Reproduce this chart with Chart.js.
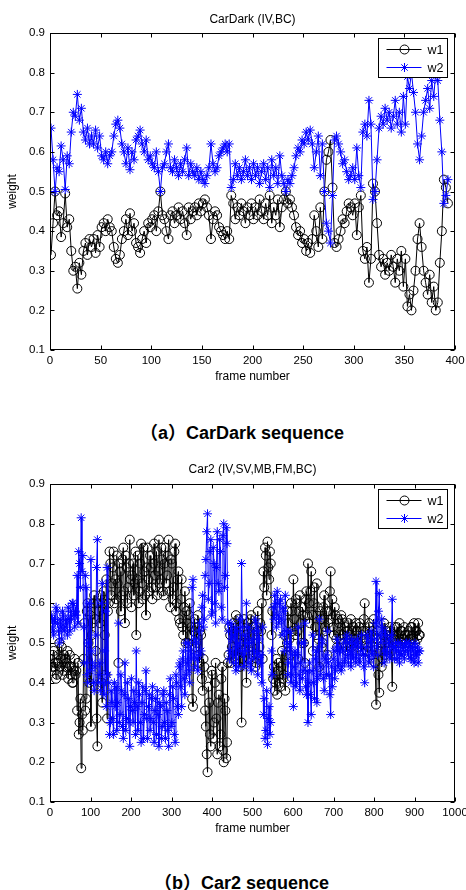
<!DOCTYPE html>
<html lang="en">
<head>
<meta charset="UTF-8">
<title>CarDark / Car2 weights</title>
<script src="https://cdn.jsdelivr.net/npm/chart.js"></script>
<style>
  html, body { margin: 0; padding: 0; background: #fff; }
  body { width: 466px; height: 890px; position: relative; overflow: hidden; font-family: "Liberation Sans", Arial, sans-serif; color: #000; }
  .box { position: absolute; left: 0; width: 466px; }
  .plot-title { position: absolute; left: 50px; width: 405px; text-align: center; font-size: 12px; line-height: 14px; }
  .caption { position: absolute; white-space: nowrap; font: bold 18px "Liberation Sans", "Noto Sans CJK SC", sans-serif; line-height: 22px; }
</style>
</head>
<body>

<div class="box" style="top:0;height:390px"><canvas id="chartDark" width="466" height="390"></canvas></div>
<div class="box" style="top:450px;height:392px"><canvas id="chartCar2" width="466" height="392"></canvas></div>

<div class="plot-title" style="top:12px">CarDark (IV,BC)</div>
<div class="caption" style="top:422px;left:140px">（a）CarDark sequence</div>
<div class="plot-title" style="top:462px">Car2 (IV,SV,MB,FM,BC)</div>
<div class="caption" style="top:872px;left:154px">（b）Car2 sequence</div>

<script>
    // CarDark: one value every 2 frames, starting at frame 1
    const darkFirstFrame = 1;
    const darkFrameStep = 2;
    const darkW1 = [
        0.34,0.42,0.50,0.44,0.45,0.385,0.42,0.495,0.41,0.43,
        0.35,0.30,0.31,0.255,0.32,0.29,0.35,0.37,0.34,0.38,
        0.36,0.38,0.345,0.39,0.36,0.41,0.42,0.40,0.43,0.41,
        0.40,0.36,0.33,0.32,0.34,0.38,0.40,0.43,0.39,0.445,
        0.40,0.42,0.37,0.36,0.345,0.38,0.40,0.37,0.42,0.41,
        0.43,0.44,0.40,0.45,0.50,0.44,0.43,0.40,0.38,0.44,
        0.45,0.42,0.44,0.46,0.43,0.45,0.42,0.39,0.46,0.43,
        0.45,0.46,0.44,0.47,0.45,0.47,0.48,0.46,0.44,0.38,
        0.43,0.45,0.44,0.41,0.40,0.39,0.38,0.40,0.38,0.49,
        0.47,0.43,0.46,0.44,0.47,0.45,0.42,0.46,0.44,0.47,
        0.43,0.46,0.44,0.48,0.45,0.43,0.47,0.44,0.49,0.42,
        0.46,0.44,0.48,0.41,0.46,0.48,0.50,0.47,0.48,0.46,
        0.44,0.41,0.39,0.40,0.37,0.38,0.35,0.37,0.345,0.38,
        0.44,0.40,0.36,0.46,0.38,0.50,0.58,0.60,0.63,0.51,
        0.37,0.36,0.38,0.40,0.43,0.42,0.45,0.47,0.46,0.44,
        0.47,0.39,0.46,0.49,0.35,0.33,0.36,0.27,0.33,0.52,
        0.50,0.42,0.34,0.31,0.33,0.29,0.32,0.30,0.34,0.31,
        0.27,0.33,0.30,0.35,0.26,0.33,0.21,0.24,0.20,0.25,
        0.30,0.38,0.42,0.36,0.30,0.27,0.24,0.29,0.22,0.26,
        0.20,0.22,0.32,0.40,0.53,0.51,0.47
    ];
    const darkW2 = [
        0.66,0.58,0.50,0.56,0.55,0.615,0.58,0.505,0.59,0.57,
        0.65,0.70,0.69,0.745,0.68,0.71,0.65,0.63,0.66,0.62,
        0.64,0.62,0.655,0.61,0.64,0.59,0.58,0.60,0.57,0.59,
        0.60,0.64,0.67,0.68,0.66,0.62,0.60,0.57,0.61,0.555,
        0.60,0.58,0.63,0.64,0.655,0.62,0.60,0.63,0.58,0.59,
        0.57,0.56,0.60,0.55,0.50,0.56,0.57,0.60,0.62,0.56,
        0.55,0.58,0.56,0.54,0.57,0.55,0.58,0.61,0.54,0.57,
        0.55,0.54,0.56,0.53,0.55,0.53,0.52,0.54,0.56,0.62,
        0.57,0.55,0.56,0.59,0.60,0.61,0.62,0.60,0.62,0.51,
        0.53,0.57,0.54,0.56,0.53,0.55,0.58,0.54,0.56,0.53,
        0.57,0.54,0.56,0.52,0.55,0.57,0.53,0.56,0.51,0.58,
        0.54,0.56,0.52,0.59,0.54,0.52,0.50,0.53,0.52,0.54,
        0.56,0.59,0.61,0.60,0.63,0.62,0.65,0.63,0.655,0.62,
        0.56,0.60,0.64,0.54,0.62,0.50,0.42,0.40,0.37,0.49,
        0.63,0.64,0.62,0.60,0.57,0.58,0.55,0.53,0.54,0.56,
        0.53,0.61,0.54,0.51,0.65,0.67,0.64,0.73,0.67,0.48,
        0.50,0.58,0.66,0.69,0.67,0.71,0.68,0.70,0.66,0.69,
        0.73,0.67,0.70,0.65,0.74,0.67,0.79,0.76,0.80,0.75,
        0.70,0.62,0.58,0.64,0.70,0.73,0.76,0.71,0.78,0.74,
        0.80,0.78,0.68,0.60,0.47,0.49,0.53
    ];

    // Car2: one value every 2 frames, starting at frame 1
    const car2FirstFrame = 1;
    const car2FrameStep = 2;
    const car2W1 = [
        0.46,0.43,0.44,0.47,0.48,0.44,0.45,0.41,0.42,0.45,0.47,0.50,0.44,0.46,0.49,0.42,0.43,0.47,0.46,0.44,
        0.45,0.48,0.41,0.44,0.47,0.42,0.44,0.40,0.40,0.43,0.46,0.42,0.43,0.33,0.45,0.27,0.30,0.36,0.185,0.32,
        0.28,0.46,0.55,0.33,0.36,0.58,0.60,0.50,0.40,0.57,0.29,0.52,0.55,0.60,0.62,0.56,0.48,0.31,0.24,0.60,
        0.58,0.55,0.62,0.40,0.35,0.60,0.63,0.52,0.42,0.66,0.31,0.58,0.60,0.73,0.70,0.62,0.65,0.69,0.73,0.60,
        0.66,0.61,0.72,0.65,0.45,0.70,0.68,0.58,0.62,0.71,0.74,0.63,0.55,0.72,0.69,0.60,0.64,0.70,0.76,0.66,
        0.59,0.67,0.70,0.62,0.65,0.73,0.52,0.66,0.72,0.60,0.63,0.70,0.75,0.65,0.61,0.74,0.68,0.62,0.57,0.69,
        0.74,0.66,0.63,0.72,0.69,0.64,0.61,0.70,0.75,0.67,0.64,0.73,0.62,0.68,0.76,0.65,0.66,0.74,0.71,0.63,
        0.62,0.70,0.74,0.65,0.67,0.72,0.76,0.63,0.59,0.71,0.70,0.61,0.64,0.73,0.75,0.58,0.60,0.66,0.68,0.56,
        0.55,0.61,0.66,0.54,0.52,0.59,0.63,0.50,0.58,0.55,0.50,0.57,0.60,0.52,0.54,0.36,0.34,0.53,0.56,0.49,
        0.50,0.54,0.57,0.47,0.45,0.53,0.52,0.41,0.38,0.46,0.44,0.33,0.29,0.22,0.175,0.39,0.35,0.27,0.24,0.43,
        0.42,0.26,0.30,0.40,0.45,0.31,0.22,0.35,0.37,0.24,0.27,0.41,0.44,0.23,0.20,0.36,0.33,0.21,0.25,0.45,
        0.47,0.54,0.52,0.45,0.49,0.53,0.55,0.48,0.46,0.57,0.51,0.47,0.56,0.50,0.44,0.52,0.30,0.46,0.53,0.56,
        0.48,0.52,0.40,0.50,0.55,0.46,0.50,0.56,0.57,0.49,0.47,0.54,0.52,0.44,0.45,0.53,0.58,0.47,0.49,0.55,
        0.53,0.60,0.46,0.68,0.64,0.74,0.72,0.62,0.755,0.69,0.66,0.73,0.70,0.52,0.58,0.41,0.44,0.38,0.40,0.46,
        0.37,0.43,0.45,0.40,0.39,0.44,0.48,0.41,0.42,0.52,0.38,0.47,0.50,0.58,0.55,0.51,0.47,0.60,0.58,0.53,
        0.66,0.56,0.52,0.61,0.60,0.53,0.46,0.58,0.62,0.55,0.50,0.59,0.57,0.50,0.45,0.61,0.63,0.57,0.70,0.60,
        0.55,0.63,0.68,0.57,0.48,0.60,0.64,0.54,0.52,0.65,0.59,0.51,0.44,0.58,0.56,0.49,0.50,0.59,0.62,0.54,
        0.53,0.58,0.47,0.55,0.58,0.63,0.68,0.56,0.61,0.54,0.52,0.59,0.57,0.51,0.49,0.56,0.55,0.52,0.51,0.57,
        0.56,0.52,0.50,0.55,0.54,0.49,0.48,0.53,0.55,0.50,0.52,0.56,0.49,0.53,0.54,0.50,0.51,0.55,0.53,0.49,
        0.50,0.54,0.55,0.51,0.48,0.52,0.53,0.56,0.60,0.53,0.51,0.48,0.49,0.55,0.54,0.50,0.47,0.53,0.52,0.56,
        0.49,0.45,0.345,0.51,0.53,0.42,0.375,0.48,0.50,0.44,0.46,0.52,0.55,0.47,0.48,0.53,0.52,0.50,0.49,0.54,
        0.53,0.48,0.39,0.51,0.51,0.54,0.50,0.52,0.54,0.50,0.52,0.55,0.50,0.53,0.53,0.51,0.51,0.54,0.52,0.50,
        0.50,0.52,0.53,0.50,0.51,0.54,0.54,0.51,0.52,0.55,0.50,0.53,0.53,0.51,0.55,0.52,0.52
    ];
    const car2W2 = [
        0.54,0.57,0.56,0.53,0.52,0.56,0.55,0.59,0.58,0.55,0.53,0.50,0.56,0.54,0.51,0.58,0.57,0.53,0.54,0.56,
        0.55,0.52,0.59,0.56,0.53,0.58,0.56,0.60,0.60,0.57,0.54,0.58,0.57,0.67,0.55,0.73,0.70,0.64,0.815,0.68,
        0.72,0.54,0.45,0.67,0.64,0.42,0.40,0.50,0.60,0.43,0.71,0.48,0.45,0.40,0.38,0.44,0.52,0.69,0.76,0.40,
        0.42,0.45,0.38,0.60,0.65,0.40,0.37,0.48,0.58,0.34,0.69,0.42,0.40,0.27,0.30,0.38,0.35,0.31,0.27,0.40,
        0.34,0.39,0.28,0.35,0.55,0.30,0.32,0.42,0.38,0.29,0.26,0.37,0.45,0.28,0.31,0.40,0.36,0.30,0.24,0.34,
        0.41,0.33,0.30,0.38,0.35,0.27,0.48,0.34,0.28,0.40,0.37,0.30,0.25,0.35,0.39,0.26,0.32,0.38,0.43,0.31,
        0.26,0.34,0.37,0.28,0.31,0.36,0.39,0.30,0.25,0.33,0.36,0.27,0.38,0.32,0.24,0.35,0.34,0.26,0.29,0.37,
        0.38,0.30,0.26,0.35,0.33,0.28,0.24,0.37,0.41,0.29,0.30,0.39,0.36,0.27,0.25,0.42,0.40,0.34,0.32,0.44,
        0.45,0.39,0.34,0.46,0.48,0.41,0.37,0.50,0.42,0.45,0.50,0.43,0.40,0.48,0.46,0.64,0.66,0.47,0.44,0.51,
        0.50,0.46,0.43,0.53,0.55,0.47,0.48,0.59,0.62,0.54,0.56,0.67,0.71,0.78,0.825,0.61,0.65,0.73,0.76,0.57,
        0.58,0.74,0.70,0.60,0.55,0.69,0.78,0.65,0.63,0.76,0.73,0.59,0.56,0.77,0.80,0.64,0.67,0.79,0.75,0.55,
        0.53,0.46,0.48,0.55,0.51,0.47,0.45,0.52,0.54,0.43,0.49,0.53,0.44,0.50,0.56,0.48,0.70,0.54,0.47,0.44,
        0.52,0.48,0.60,0.50,0.45,0.54,0.50,0.44,0.43,0.51,0.53,0.46,0.48,0.56,0.55,0.47,0.42,0.53,0.51,0.45,
        0.47,0.40,0.54,0.32,0.36,0.26,0.28,0.38,0.245,0.31,0.34,0.27,0.30,0.48,0.42,0.59,0.56,0.62,0.60,0.54,
        0.63,0.57,0.55,0.60,0.61,0.56,0.52,0.59,0.58,0.48,0.62,0.53,0.50,0.42,0.45,0.49,0.53,0.40,0.42,0.47,
        0.34,0.44,0.48,0.39,0.40,0.47,0.54,0.42,0.38,0.45,0.50,0.41,0.43,0.50,0.55,0.39,0.37,0.43,0.30,0.40,
        0.45,0.37,0.32,0.43,0.52,0.40,0.36,0.46,0.48,0.35,0.41,0.49,0.56,0.42,0.44,0.51,0.50,0.41,0.38,0.46,
        0.47,0.42,0.53,0.45,0.42,0.37,0.32,0.44,0.39,0.46,0.48,0.41,0.43,0.49,0.51,0.44,0.45,0.48,0.49,0.43,
        0.44,0.48,0.50,0.45,0.46,0.51,0.52,0.47,0.45,0.50,0.48,0.44,0.51,0.47,0.46,0.50,0.49,0.45,0.47,0.51,
        0.50,0.46,0.45,0.49,0.52,0.48,0.47,0.44,0.40,0.47,0.49,0.52,0.51,0.45,0.46,0.50,0.53,0.47,0.48,0.44,
        0.51,0.55,0.655,0.49,0.47,0.58,0.625,0.52,0.50,0.56,0.54,0.48,0.45,0.53,0.52,0.47,0.48,0.50,0.51,0.46,
        0.47,0.52,0.61,0.49,0.49,0.46,0.50,0.48,0.46,0.50,0.48,0.45,0.50,0.47,0.47,0.49,0.49,0.46,0.48,0.50,
        0.50,0.48,0.47,0.50,0.49,0.46,0.46,0.49,0.48,0.45,0.50,0.47,0.47,0.49,0.45,0.48,0.48
    ];

    const seriesNames = ['w1', 'w2'];
    const weightTicks = [0.1, 0.2, 0.3, 0.4, 0.5, 0.6, 0.7, 0.8, 0.9];
    const darkFrameTicks = [0, 50, 100, 150, 200, 250, 300, 350, 400];
    const car2FrameTicks = [0, 100, 200, 300, 400, 500, 600, 700, 800, 900, 1000];

    Chart.defaults.color = '#000';
    Chart.defaults.font.family = '"Liberation Sans", Arial, sans-serif';

    const w1Style = { color: '#000000', pointStyle: 'circle', radius: 4.5 };
    const w2Style = { color: '#0000ff', pointStyle: 'star', radius: 4.5 };

    function toPoints(values, first, step) {
        return values.map((v, i) => ({ x: first + i * step, y: v }));
    }

    // box round the plot, inward ticks on all four sides, and the legend
    const matlabAxes = {
        id: 'matlabAxes',
        afterDraw(chart) {
            const { ctx, chartArea: a, scales: { x, y } } = chart;
            const len = 4;
            ctx.save();
            ctx.strokeStyle = '#000';
            ctx.lineWidth = 1;
            const L = Math.round(a.left) + 0.5, R = Math.round(a.right) - 0.5;
            const T = Math.round(a.top) + 0.5, B = Math.round(a.bottom) - 0.5;
            ctx.strokeRect(L, T, R - L, B - T);
            ctx.beginPath();
            x.ticks.forEach(t => {
                const px = Math.round(x.getPixelForValue(t.value)) + 0.5;
                ctx.moveTo(px, B); ctx.lineTo(px, B - len);
                ctx.moveTo(px, T); ctx.lineTo(px, T + len);
            });
            y.ticks.forEach(t => {
                const py = Math.round(y.getPixelForValue(t.value)) + 0.5;
                ctx.moveTo(L, py); ctx.lineTo(L + len, py);
                ctx.moveTo(R, py); ctx.lineTo(R - len, py);
            });
            ctx.stroke();

            // legend box
            const bx = Math.round(a.right) - 76.5, by = Math.round(a.top) + 5.5;
            ctx.fillStyle = '#fff';
            ctx.fillRect(bx, by, 69, 39);
            ctx.strokeRect(bx, by, 69, 39);
            chart.data.datasets.forEach((ds, i) => {
                const ly = by + 11 + i * 18;
                ctx.strokeStyle = ds.borderColor;
                ctx.beginPath();
                ctx.moveTo(bx + 8, ly);
                ctx.lineTo(bx + 43, ly);
                ctx.stroke();
                ctx.fillStyle = 'rgba(0,0,0,0)';
                Chart.helpers.drawPoint(ctx, {
                    pointStyle: ds.pointStyle, radius: ds.pointRadius,
                    borderWidth: 1, rotation: 0
                }, bx + 26, ly);
                ctx.fillStyle = '#000';
                ctx.font = '12.5px "Liberation Sans", Arial, sans-serif';
                ctx.textBaseline = 'middle';
                ctx.textAlign = 'left';
                ctx.fillText(ds.label, bx + 49, ly + 1);
            });
            ctx.restore();
        }
    };

    function makeDataset(name, style, values, first, step, order) {
        return {
            label: name,
            data: toPoints(values, first, step),
            borderColor: style.color,
            backgroundColor: style.color,
            borderWidth: 1,
            pointStyle: style.pointStyle,
            pointRadius: style.radius,
            pointBorderWidth: 1,
            pointBorderColor: style.color,
            pointBackgroundColor: 'rgba(0,0,0,0)',
            order: order
        };
    }

    function makeChart(canvasId, w1, w2, first, step, xTicks, padTop) {
        return new Chart(document.getElementById(canvasId), {
            type: 'line',
            data: {
                datasets: [
                    makeDataset(seriesNames[0], w1Style, w1, first, step, 1),
                    makeDataset(seriesNames[1], w2Style, w2, first, step, 0)
                ]
            },
            options: {
                responsive: false,
                animation: false,
                layout: { padding: { top: padTop, right: 11, left: 0, bottom: 0 } },
                plugins: { legend: { display: false }, tooltip: { enabled: false } },
                scales: {
                    x: {
                        type: 'linear',
                        min: xTicks[0],
                        max: xTicks[xTicks.length - 1],
                        grid: { display: false, drawTicks: false },
                        border: { display: false },
                        afterBuildTicks: s => { s.ticks = xTicks.map(v => ({ value: v })); },
                        afterFit: s => { s.height = 40; s.paddingLeft = 0; s.paddingRight = 0; },
                        ticks: { padding: 4, maxRotation: 0, autoSkip: false, font: { size: 11.5 }, callback: v => String(v) },
                        title: { display: true, text: 'frame number', font: { size: 12 }, padding: { top: 0, bottom: 6 } }
                    },
                    y: {
                        min: weightTicks[0],
                        max: weightTicks[weightTicks.length - 1],
                        grid: { display: false, drawTicks: false },
                        border: { display: false },
                        afterBuildTicks: s => { s.ticks = weightTicks.map(v => ({ value: v })); },
                        afterFit: s => { s.width = 50; s.paddingTop = 0; s.paddingBottom = 0; },
                        ticks: { padding: 5, autoSkip: false, font: { size: 11.5 }, callback: v => String(v) },
                        title: { display: true, text: 'weight', font: { size: 12 }, padding: { top: 5, bottom: 0 } }
                    }
                }
            },
            plugins: [matlabAxes]
        });
    }

    makeChart('chartDark', darkW1, darkW2, darkFirstFrame, darkFrameStep, darkFrameTicks, 33);
    makeChart('chartCar2', car2W1, car2W2, car2FirstFrame, car2FrameStep, car2FrameTicks, 34);
</script>

</body>
</html>
